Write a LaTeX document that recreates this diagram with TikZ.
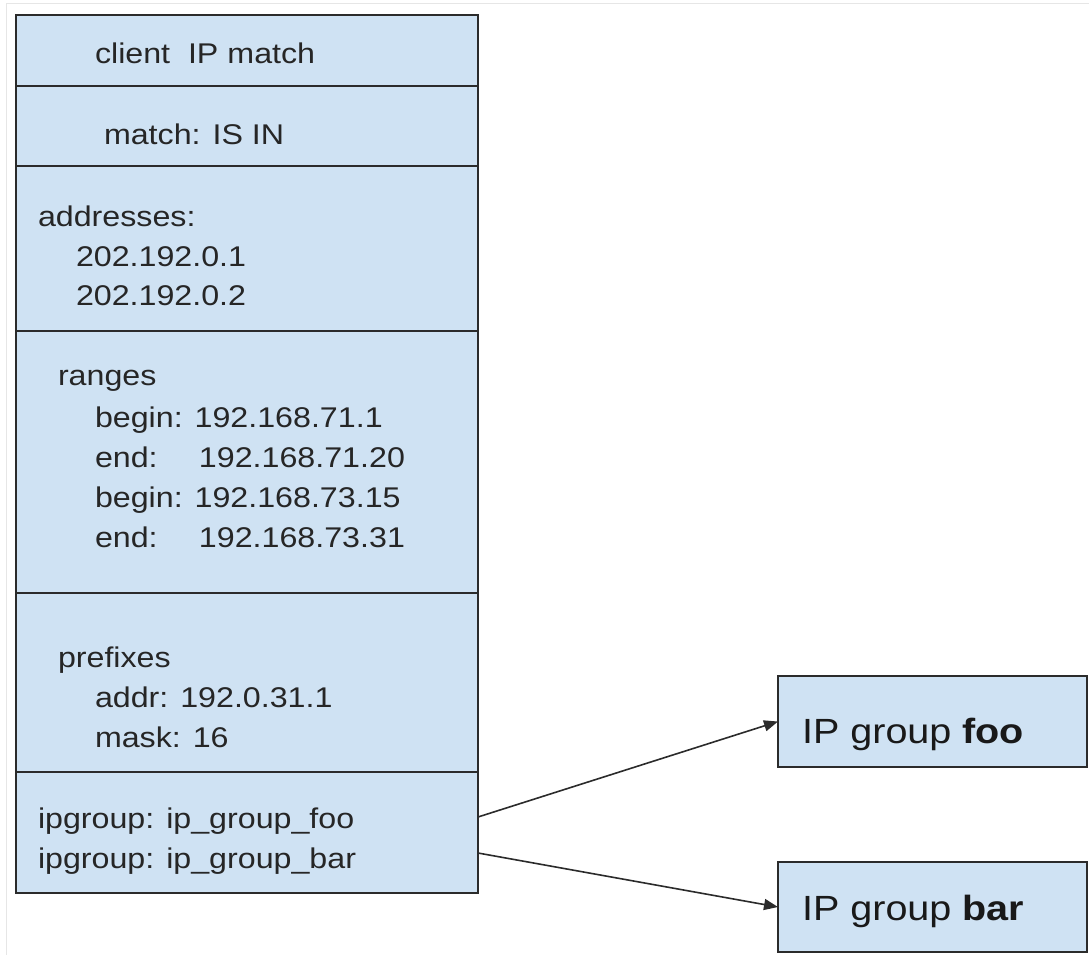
\documentclass[tikz,border=0pt]{standalone}
\usepackage{fontspec}
\setmainfont{Liberation Sans}[FakeStretch=1.13]
\usetikzlibrary{positioning,arrows.meta}

\definecolor{cellblue}{HTML}{CFE2F3}
\definecolor{edgegray}{HTML}{2B2B2B}
\definecolor{framegray}{HTML}{E6E6E6}

\begin{document}
\begin{tikzpicture}[x=1pt, y=-1pt,
    every node/.style={inner sep=0pt, outer sep=0pt},
    cell/.style={draw=edgegray, fill=cellblue, line width=1.6pt, anchor=north west, minimum width=462pt},
    grpbox/.style={draw=edgegray, fill=cellblue, line width=1.6pt, anchor=north west, minimum width=309pt, minimum height=91pt},
    txt/.style={anchor=base west, font=\fontsize{28.5}{40}\selectfont, text=black!85},
    bigtxt/.style={anchor=base west, font=\fontsize{35}{44}\selectfont, text=black!90},
    link/.style={draw=edgegray, line width=1.6pt, -{Triangle[length=14pt,width=11pt]}}]
  \useasboundingbox (0,0) rectangle (1089,955);
  \draw[framegray, line width=1pt] (6,955) |- (1089,4);

  % the match record, one cell per field
  \node[cell, minimum height=71pt] (title) at (16,15) {};
  \node[cell, minimum height=80pt] (cond) at (16,86) {};
  \node[cell, minimum height=165pt] (addrs) at (16,166) {};
  \node[cell, minimum height=262pt] (rngs) at (16,331) {};
  \node[cell, minimum height=179pt] (prefs) at (16,593) {};
  \node[cell, minimum height=121pt] (grp) at (16,772) {};

  \node[txt] (ttl) at (95,64) {client\ \ IP match};
  \node[txt] (mtch) at (104,145) {match: IS IN};

  \node[txt] (a0) at (38,226) {addresses:};
  \node[txt] (a1) at (76,266) {202.192.0.1};
  \node[txt] (a2) at (76,305) {202.192.0.2};

  \node[txt] (r0) at (58,385) {ranges};
  \node[txt] (r1) at (95,427) {begin: 192.168.71.1};
  \node[txt] (r2) at (95,467) {\makebox[104pt][l]{end:}192.168.71.20};
  \node[txt] (r3) at (95,507) {begin: 192.168.73.15};
  \node[txt] (r4) at (95,547) {\makebox[104pt][l]{end:}192.168.73.31};

  \node[txt] (p0) at (58,667) {prefixes};
  \node[txt] (p1) at (95,707) {addr: 192.0.31.1};
  \node[txt] (p2) at (95,747) {mask: 16};

  \node[txt] (g1) at (38,828) {ipgroup: ip\_group\_foo};
  \node[txt] (g2) at (38,868) {ipgroup: ip\_group\_bar};

  % referenced groups
  \node[grpbox] (foo) at (778,676) {};
  \node[bigtxt] (footxt) at (802,743) {IP group \textbf{foo}};
  \node[grpbox, minimum height=90pt] (bar) at (778,862) {};
  \node[bigtxt] (bartxt) at (802,920) {IP group \textbf{bar}};

  \coordinate (sfoo) at (grp.east |- 0,817);
  \coordinate (sbar) at (grp.east |- 0,853);
  \draw[link] (sfoo) -- (foo.west);
  \draw[link] (sbar) -- (bar.west);
\end{tikzpicture}
\end{document}
